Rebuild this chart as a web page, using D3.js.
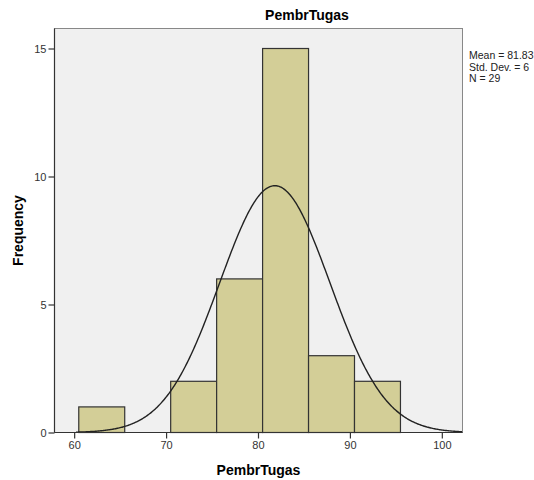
<!DOCTYPE html>
<html>
<head>
<meta charset="utf-8">
<script src="https://cdn.jsdelivr.net/npm/d3@7"></script>
<style>
  body { margin: 0; background: #fff; }
  text { font-family: Arial, "Liberation Sans", sans-serif; }
</style>
</head>
<body>
<svg width="534" height="480"></svg>
<script>
// Histogram bins (lower, upper) and counts
const binLower = [60.5, 70.5, 75.5, 80.5, 85.5, 90.5];
const binUpper = [65.5, 75.5, 80.5, 85.5, 90.5, 95.5];
const counts = [1, 2, 6, 15, 3, 2];
const xTicks = [60, 70, 80, 90, 100];
const yTicks = [0, 5, 10, 15];
const statLines = ["Mean = 81.83", "Std. Dev. = 6", "N = 29"];
const mean = 81.83, sd = 6, n = 29, binWidth = 5;

const svg = d3.select("svg");
const plot = { left: 54.5, right: 462.5, top: 28.5, bottom: 432.5 };

const x = d3.scaleLinear().domain([57.86, 102.25]).range([plot.left, plot.right]);
const y = d3.scaleLinear().domain([0, 15]).range([plot.bottom, 48.5]);

// Plot background
svg.append("rect")
  .attr("x", plot.left).attr("y", plot.top)
  .attr("width", plot.right - plot.left).attr("height", plot.bottom - plot.top)
  .attr("fill", "#f0f0f0")
  .attr("stroke", "#888").attr("stroke-width", 1);

// Bars
svg.selectAll(".bar")
  .data(counts)
  .join("rect")
  .attr("class", "bar")
  .attr("x", (d, i) => x(binLower[i]))
  .attr("y", d => y(d))
  .attr("width", (d, i) => x(binUpper[i]) - x(binLower[i]))
  .attr("height", d => y(0) - y(d))
  .attr("fill", "#d3ce97")
  .attr("stroke", "#333")
  .attr("stroke-width", 1.2);

// Normal curve
const curveX = d3.range(60.2, 102.25, 0.1);
const density = v => n * binWidth / (sd * Math.sqrt(2 * Math.PI)) * Math.exp(-0.5 * ((v - mean) / sd) ** 2);
svg.append("path")
  .datum(curveX)
  .attr("fill", "none")
  .attr("stroke", "#222")
  .attr("stroke-width", 1.4)
  .attr("d", d3.line().x(d => x(d)).y(d => y(density(d))));

// Axes lines
svg.append("line").attr("x1", plot.left).attr("x2", plot.left).attr("y1", plot.top).attr("y2", plot.bottom)
  .attr("stroke", "#333").attr("stroke-width", 1.2);
svg.append("line").attr("x1", plot.left).attr("x2", plot.right).attr("y1", plot.bottom).attr("y2", plot.bottom)
  .attr("stroke", "#333").attr("stroke-width", 1.2);

// Y axis
const yAxis = svg.append("g")
  .attr("transform", `translate(${plot.left},0)`)
  .call(d3.axisLeft(y).tickValues(yTicks).tickSize(6).tickPadding(2));
yAxis.select(".domain").remove();
yAxis.selectAll("line").attr("stroke", "#333").attr("stroke-width", 1.2);
yAxis.selectAll("text").attr("font-size", 11).attr("fill", "#333")
  .attr("font-family", "Arial, 'Liberation Sans', sans-serif");

// X axis
const xAxis = svg.append("g")
  .attr("transform", `translate(0,${plot.bottom})`)
  .call(d3.axisBottom(x).tickValues(xTicks).tickSize(6).tickPadding(3));
xAxis.select(".domain").remove();
xAxis.selectAll("line").attr("stroke", "#333").attr("stroke-width", 1.2);
xAxis.selectAll("text").attr("font-size", 11).attr("fill", "#333")
  .attr("font-family", "Arial, 'Liberation Sans', sans-serif");

// Title and axis labels
svg.append("text")
  .attr("x", 307).attr("y", 20)
  .attr("text-anchor", "middle")
  .attr("font-size", 14).attr("font-weight", "bold")
  .text("PembrTugas");

svg.append("text")
  .attr("x", (plot.left + plot.right) / 2).attr("y", 475)
  .attr("text-anchor", "middle")
  .attr("font-size", 14).attr("font-weight", "bold")
  .text("PembrTugas");

svg.append("text")
  .attr("transform", `translate(23,${(plot.top + plot.bottom) / 2}) rotate(-90)`)
  .attr("text-anchor", "middle")
  .attr("font-size", 14).attr("font-weight", "bold")
  .text("Frequency");

// Stats
svg.selectAll(".stat")
  .data(statLines)
  .join("text")
  .attr("class", "stat")
  .attr("x", 469)
  .attr("y", (d, i) => 59 + i * 11.5)
  .attr("font-size", 10.5)
  .attr("fill", "#222")
  .text(d => d);
</script>
</body>
</html>
